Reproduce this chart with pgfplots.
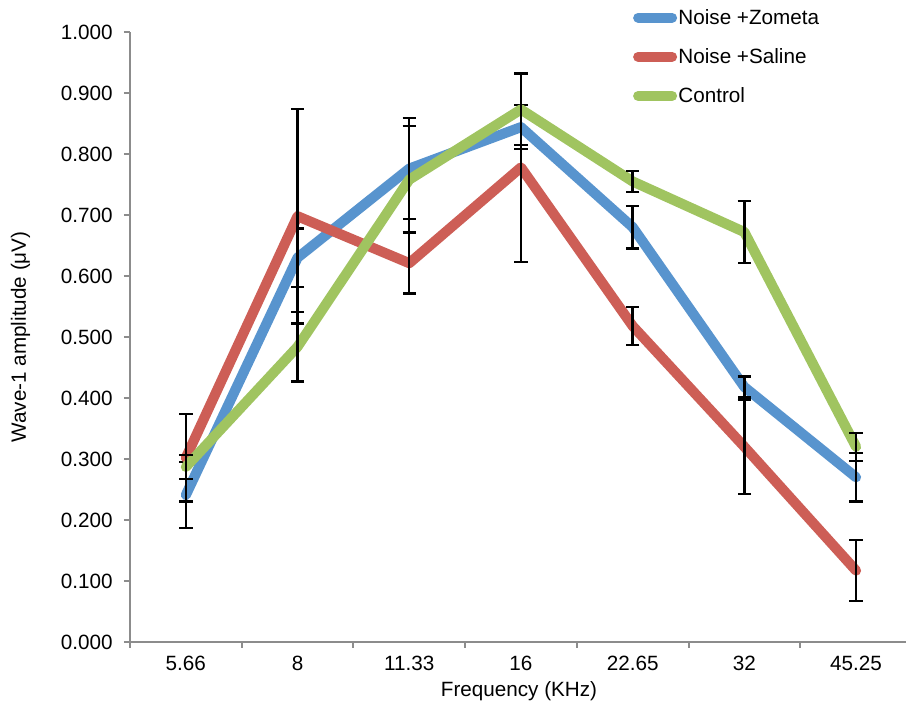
\documentclass[border=0pt]{standalone}
\usepackage{pgfplots}
\pgfplotsset{compat=1.18}
\usepackage{fontspec}
\setmainfont{Liberation Sans}
\definecolor{cblue}{RGB}{88,148,206}
\definecolor{cred}{RGB}{205,94,86}
\definecolor{cgreen}{RGB}{160,196,96}
\definecolor{axgray}{RGB}{140,140,140}
\begin{document}
\begin{tikzpicture}
\useasboundingbox (-97.5pt,-51pt) rectangle (582pt,481.5pt);
\begin{axis}[
  at={(0,0)}, anchor=south west,
  scale only axis, width=582pt, height=457.5pt,
  xmin=-0.5, xmax=6.447, ymin=0, ymax=1,
  clip=false,
  axis x line*=bottom, axis y line*=left,
  axis line style={axgray, line width=1.5pt},
  tick style={axgray, line width=1.5pt},
  tick align=outside,
  major tick length=4.5pt,
  xtick={-0.5,0.5,1.5,2.5,3.5,4.5,5.5},
  xticklabels={},
  extra x ticks={0,1,2,3,4,5,6},
  extra x tick labels={5.66,8,11.33,16,22.65,32,45.25},
  extra x tick style={major tick length=0pt, xticklabel style={yshift=-7pt}},
  ytick={0,0.1,0.2,0.3,0.4,0.5,0.6,0.7,0.8,0.9,1},
  /pgf/number format/assume math mode=true,
  yticklabel style={/pgf/number format/.cd, fixed, fixed zerofill, precision=3, /tikz/.cd, xshift=-5pt},
  ticklabel style={font=\fontsize{15.5}{18}\selectfont, text=black},
  every axis y label/.style={at={(axis description cs:-0.141,0.5)}, rotate=90, anchor=center, font=\fontsize{15.5}{18}\selectfont},
  every axis x label/.style={at={(axis description cs:0.5013,-0.0810)}, anchor=center, font=\fontsize{15.5}{18}\selectfont},
  ylabel={Wave-1 amplitude (μV)},
  xlabel={Frequency (KHz)},
  legend style={at={(axis description cs:0.648,1.040)}, anchor=north west, draw=none, fill=none,
    font=\fontsize{15.5}{18}\selectfont, row sep=14.6pt, inner sep=0pt,
    nodes={inner sep=1pt}},
  legend cell align=left,
  legend image code/.code={\draw[#1, line width=7.5pt, line cap=round] (3.75pt,0pt) -- (29.25pt,0pt);},
  ser/.style={line width=7.6pt, line join=round, line cap=round,
    error bars/.cd, y dir=both, y explicit,
    error bar style={black, line width=1.8pt, line cap=butt},
    error mark options={black, rotate=90, mark size=5pt, line width=1.8pt}},
]
\addplot[cblue, ser] coordinates {
  (0,0.241) +- (0,0.054)
  (1,0.630) +- (0,0.048)
  (2,0.776) +- (0,0.083)
  (3,0.844) +- (0,0.036)
  (4,0.680) +- (0,0.035)
  (5,0.418) +- (0,0.017)
  (6,0.270) +- (0,0.040)
};
\addlegendentry{Noise +Zometa}
\addplot[cred, ser] coordinates {
  (0,0.302) +- (0,0.072)
  (1,0.698) +- (0,0.176)
  (2,0.621) +- (0,0.050)
  (3,0.778) +- (0,0.155)
  (4,0.518) +- (0,0.031)
  (5,0.320) +- (0,0.077)
  (6,0.117) +- (0,0.050)
};
\addlegendentry{Noise +Saline}
\addplot[cgreen, ser] coordinates {
  (0,0.287) +- (0,0.020)
  (1,0.484) +- (0,0.057)
  (2,0.758) +- (0,0.088)
  (3,0.873) +- (0,0.058)
  (4,0.755) +- (0,0.017)
  (5,0.672) +- (0,0.051)
  (6,0.320) +- (0,0.023)
};
\addlegendentry{Control}
\end{axis}
\end{tikzpicture}
\end{document}
